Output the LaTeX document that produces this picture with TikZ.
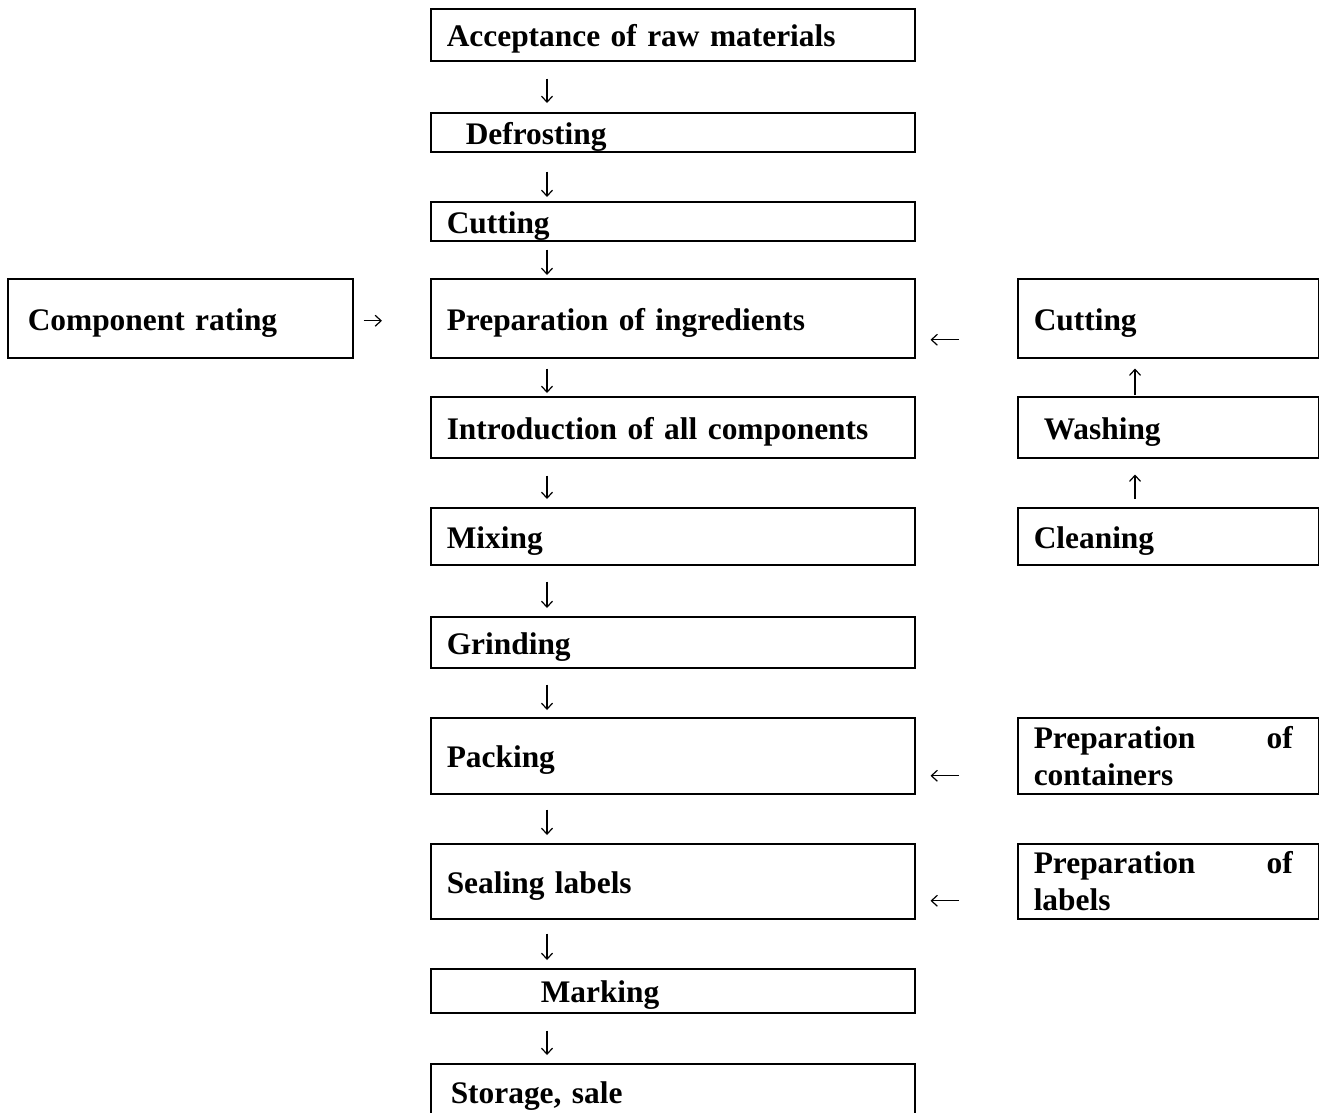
\documentclass[tikz,border=0pt]{standalone}
\usepackage{fontspec}
\setmainfont{Liberation Serif}
\usetikzlibrary{arrows.meta}
\begin{document}
\begin{tikzpicture}[x=1pt,y=-1pt,
  box/.style={draw, line width=1.5pt, anchor=north west, inner ysep=0pt, inner xsep=16pt,
    align=left, font=\fontsize{31.4}{37}\selectfont\bfseries},
  one/.style={text height=27pt, text depth=3pt},
  mainbox/.style={box, minimum width=484pt, text width=452pt},
  sidebox/.style={box, minimum width=301pt, text width=269pt},
  arr/.style={line width=1.2pt, -{Straight Barb[length=6pt,width=11pt,line width=1.2pt]}}]
\useasboundingbox (0,0) rectangle (1319,1112);
% main column
\node[mainbox, one, minimum height=52pt] (acc) at (430,8) {Acceptance of raw materials};
\node[mainbox, one, minimum height=39pt] (def) at (430,112) {\hspace*{19pt}Defrosting};
\node[mainbox, one, minimum height=39pt] (cut) at (430,201) {Cutting};
\node[mainbox, one, minimum height=79pt] (prep) at (430,278) {Preparation of ingredients};
\node[mainbox, one, minimum height=61pt] (intro) at (430,396) {Introduction of all components};
\node[mainbox, one, minimum height=57pt] (mix) at (430,507) {Mixing};
\node[mainbox, one, minimum height=51pt] (grind) at (430,616) {Grinding};
\node[mainbox, one, minimum height=76pt] (pack) at (430,717) {Packing};
\node[mainbox, one, minimum height=75pt] (seal) at (430,843) {Sealing labels};
\node[mainbox, one, minimum height=44pt] (mark) at (430,968) {\hspace*{94pt}Marking};
\node[mainbox, one, minimum height=56pt] (stor) at (430,1063) {\hspace*{4pt}Storage, sale};
% left
\node[box, one, inner xsep=20pt, minimum width=345pt, text width=305pt, minimum height=79pt] (comp) at (7,278) {Component rating};
% right
\node[sidebox, one, minimum height=79pt] (cutR) at (1017,278) {Cutting};
\node[sidebox, one, minimum height=61pt] (wash) at (1017,396) {\hspace*{10pt}Washing};
\node[sidebox, one, minimum height=57pt] (clean) at (1017,507) {Cleaning};
\node[sidebox, minimum height=76pt] (cont) at (1017,717) {\makebox[259pt][l]{Preparation\hfill of}\\containers};
\node[sidebox, minimum height=75pt] (lab) at (1017,843) {\makebox[259pt][l]{Preparation\hfill of}\\labels};
\draw[line width=1.5pt] (wash.south east) -- (clean.north east);
% arrows
\coordinate (dx) at (547,0);
\coordinate (ux) at (1135,0);
\draw[arr, shorten <=17pt, shorten >=9pt] (acc.south -| dx) -- (def.north -| dx);
\draw[arr, shorten <=19pt, shorten >=4pt] (def.south -| dx) -- (cut.north -| dx);
\draw[arr, shorten <=8pt, shorten >=3pt] (cut.south -| dx) -- (prep.north -| dx);
\draw[arr, shorten <=10pt, shorten >=3pt] (prep.south -| dx) -- (intro.north -| dx);
\draw[arr, shorten <=17pt, shorten >=8pt] (intro.south -| dx) -- (mix.north -| dx);
\draw[arr, shorten <=16pt, shorten >=8pt] (mix.south -| dx) -- (grind.north -| dx);
\draw[arr, shorten <=16pt, shorten >=7pt] (grind.south -| dx) -- (pack.north -| dx);
\draw[arr, shorten <=15pt, shorten >=8pt] (pack.south -| dx) -- (seal.north -| dx);
\draw[arr, shorten <=14pt, shorten >=8pt] (seal.south -| dx) -- (mark.north -| dx);
\draw[arr, shorten <=17pt, shorten >=8pt] (mark.south -| dx) -- (stor.north -| dx);
\draw[arr, shorten <=10pt, shorten >=48pt] ([yshift=-2.5pt]comp.east) -- ([yshift=-2.5pt]prep.west);
\draw[arr, shorten <=58pt, shorten >=15pt] ([yshift=-21.5pt]cutR.west) -- ([yshift=-21.5pt]prep.east);
\draw[arr, shorten <=58pt, shorten >=15pt] ([yshift=-20pt]cont.west) -- ([yshift=-20pt]pack.east);
\draw[arr, shorten <=58pt, shorten >=15pt] ([yshift=-19.5pt]lab.west) -- ([yshift=-19.5pt]seal.east);
\draw[arr, shorten <=1pt, shorten >=10pt] (wash.north -| ux) -- (cutR.south -| ux);
\draw[arr, shorten <=8pt, shorten >=16pt] (clean.north -| ux) -- (wash.south -| ux);
\end{tikzpicture}
\end{document}
